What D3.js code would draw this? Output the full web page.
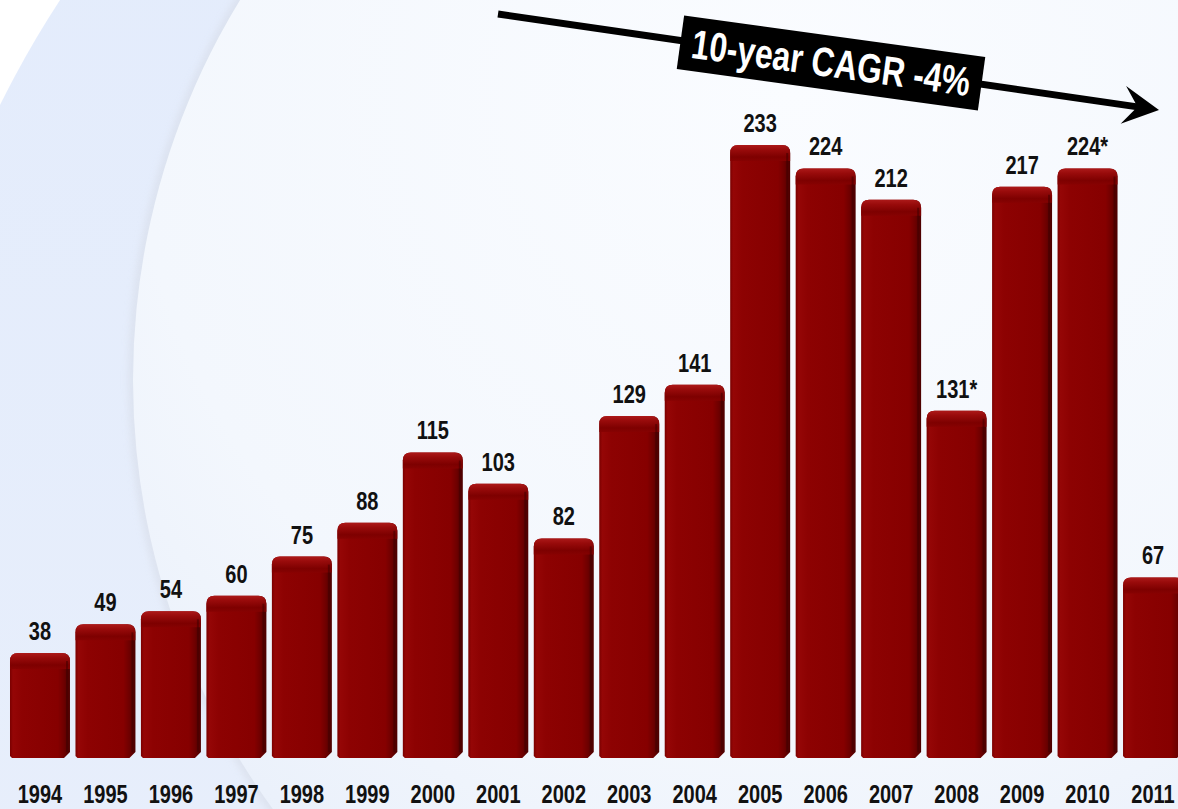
<!DOCTYPE html>
<html>
<head>
<meta charset="utf-8">
<script src="https://cdn.jsdelivr.net/npm/d3@7"></script>
<style>
  html, body { margin: 0; padding: 0; background: #ffffff; }
  svg { display: block; }
  text { font-family: "Liberation Sans", Arial, sans-serif; font-weight: bold; }
</style>
</head>
<body>
<svg id="chart" width="1178" height="809"></svg>
<script>
const years = ["1994","1995","1996","1997","1998","1999","2000","2001","2002","2003","2004","2005","2006","2007","2008","2009","2010","2011"];
const values = [38, 49, 54, 60, 75, 88, 115, 103, 82, 129, 141, 233, 224, 212, 131, 217, 224, 67];
const labelSuffix = ["", "", "", "", "", "", "", "", "", "", "", "", "", "", "*", "", "*", ""];
const annotationText = "10-year CAGR -4%";

const W = 1178, H = 809;
const NARROW = 0.8;
const svg = d3.select("#chart");
const defs = svg.append("defs");

// ---------- background ----------
const bgGrad = defs.append("linearGradient").attr("id", "bgOuter")
  .attr("x1", 0).attr("y1", 0).attr("x2", 0).attr("y2", 1);
bgGrad.append("stop").attr("offset", 0).attr("stop-color", "#e2ebfc");
bgGrad.append("stop").attr("offset", 1).attr("stop-color", "#eaf0fb");

const inGrad = defs.append("radialGradient").attr("id", "bgInner")
  .attr("cx", 0.45).attr("cy", 0.3).attr("r", 0.75);
inGrad.append("stop").attr("offset", 0).attr("stop-color", "#fafcff");
inGrad.append("stop").attr("offset", 0.6).attr("stop-color", "#f3f7fd");
inGrad.append("stop").attr("offset", 1).attr("stop-color", "#e3ebf9");

const shadow = defs.append("filter").attr("id", "edgeBlur")
  .attr("x", -0.1).attr("y", -0.1).attr("width", 1.2).attr("height", 1.2);
shadow.append("feGaussianBlur").attr("stdDeviation", 4);

svg.append("rect").attr("width", W).attr("height", H).attr("fill", "#ffffff");
svg.append("circle").attr("cx", 900).attr("cy", 550).attr("r", 1004).attr("fill", "url(#bgOuter)");
svg.append("circle").attr("cx", 861).attr("cy", 380).attr("r", 728)
  .attr("fill", "none").attr("stroke", "#d3d8e2").attr("stroke-width", 6).attr("filter", "url(#edgeBlur)").attr("opacity", 0.8);
svg.append("circle").attr("cx", 861).attr("cy", 380).attr("r", 728).attr("fill", "url(#bgInner)");

// ---------- scales ----------
const x = d3.scaleBand().domain(years).range([10 - 2.75, 1183 + 2.75]).paddingInner(0.084).paddingOuter(0.042);
const y = d3.scaleLinear().domain([0, 233]).range([752, 145]);
const baseY = 758;

// ---------- bar gradients ----------
const bodyGrad = defs.append("linearGradient").attr("id", "barBody")
  .attr("x1", 0).attr("y1", 0).attr("x2", 1).attr("y2", 0);
[[0, "#7a0000"], [0.05, "#950606"], [0.2, "#8d0202"], [0.8, "#860000"], [0.9, "#6e0000"], [1, "#4a0000"]]
  .forEach(([o, c]) => bodyGrad.append("stop").attr("offset", o).attr("stop-color", c));

const capGrad = defs.append("linearGradient").attr("id", "barCap")
  .attr("x1", 0).attr("y1", 0).attr("x2", 0).attr("y2", 1);
[[0, "#b01c1c"], [0.3, "#9a0c0c"], [0.75, "#7c0000"], [1, "#860202"]]
  .forEach(([o, c]) => capGrad.append("stop").attr("offset", o).attr("stop-color", c));

function barPath(x0, w, top, bottom) {
  const r = 8, b = 6;
  return `M${x0},${bottom - 2}` +
    `L${x0},${top + r}` +
    `Q${x0},${top} ${x0 + r},${top}` +
    `L${x0 + w - r},${top}` +
    `Q${x0 + w},${top} ${x0 + w},${top + r}` +
    `L${x0 + w},${bottom - b}` +
    `L${x0 + w - b},${bottom}` +
    `L${x0 + 2},${bottom}` +
    `Z`;
}

const bars = svg.append("g").selectAll("g").data(years).join("g");
bars.append("path")
  .attr("d", (d, i) => barPath(x(d), x.bandwidth(), y(values[i]), baseY))
  .attr("fill", "url(#barBody)");
bars.append("path")
  .attr("d", (d, i) => {
    const x0 = x(d), w = x.bandwidth(), t = y(values[i]), r = 8, h = 16;
    return `M${x0},${t + h}L${x0},${t + r}Q${x0},${t} ${x0 + r},${t}L${x0 + w - r},${t}Q${x0 + w},${t} ${x0 + w},${t + r}L${x0 + w},${t + h}Z`;
  })
  .attr("fill", "url(#barCap)").attr("opacity", 0.9);
bars.append("line")
  .attr("x1", d => x(d) + x.bandwidth() - 3).attr("x2", d => x(d) + x.bandwidth() - 3)
  .attr("y1", (d, i) => y(values[i]) + 8).attr("y2", baseY - 6)
  .attr("stroke", "#3d0000").attr("stroke-width", 2).attr("opacity", 0.5);

// ---------- value labels ----------
svg.append("g").selectAll("text").data(years).join("text")
  .attr("transform", (d, i) => `translate(${x(d) + x.bandwidth() / 2},${y(values[i]) - 13}) scale(${NARROW},1)`)
  .attr("text-anchor", "middle")
  .attr("font-size", 25)
  .attr("fill", "#111111")
  .text((d, i) => values[i] + labelSuffix[i]);

// ---------- year axis ----------
const axis = svg.append("g").attr("transform", `translate(0,${baseY})`)
  .call(d3.axisBottom(x).tickSize(0).tickPadding(27));
axis.select(".domain").remove();
axis.selectAll("text")
  .attr("font-size", 25).attr("fill", "#111111")
  .attr("transform", `scale(${NARROW},1)`)
  .style("font-family", '"Liberation Sans", Arial, sans-serif')
  .style("font-weight", "bold");

// ---------- trend arrow ----------
const ax0 = 498, ay0 = 14, ax1 = 1159, ay1 = 110;
const ang = Math.atan2(ay1 - ay0, ax1 - ax0);
const deg = ang * 180 / Math.PI;
svg.append("line")
  .attr("x1", ax0).attr("y1", ay0)
  .attr("x2", ax1 - 20 * Math.cos(ang)).attr("y2", ay1 - 20 * Math.sin(ang))
  .attr("stroke", "#000").attr("stroke-width", 7);
svg.append("path")
  .attr("transform", `translate(${ax1},${ay1}) rotate(${deg})`)
  .attr("d", "M0,0 L-36,-19 L-24,-3 L-24,3 L-36,19 Z")
  .attr("fill", "#000");

// ---------- annotation box ----------
const bx = 831, by = 63;
const box = svg.append("g").attr("transform", `translate(${bx},${by}) rotate(${deg - 0.4})`);
box.append("rect").attr("x", -152).attr("y", -27).attr("width", 304).attr("height", 54).attr("fill", "#000");
box.append("text").attr("transform", `translate(0,14) scale(0.78,1)`)
  .attr("text-anchor", "middle").attr("font-size", 41).attr("fill", "#ffffff")
  .text(annotationText);
</script>
</body>
</html>
